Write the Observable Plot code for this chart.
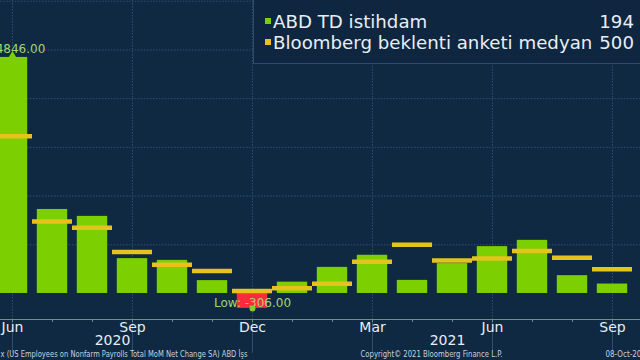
<!DOCTYPE html>
<html>
<head>
<meta charset="utf-8">
<script src="https://cdn.jsdelivr.net/npm/d3@7"></script>
<script src="https://cdn.jsdelivr.net/npm/@observablehq/plot@0.6"></script>
<style>
  html, body { margin: 0; padding: 0; background: #0f2942; overflow: hidden; }
  #wrap { position: relative; width: 640px; height: 360px; overflow: hidden; font-family: "DejaVu Sans", sans-serif; }
  #legend { position: absolute; left: 253px; top: -1px; width: 400px; height: 65px; box-sizing: border-box;
    border: 1px solid #2f4a66; background: #0e2640; color: #e8eef4; font-size: 18.2px; }
  .row { position: absolute; left: 0; height: 21px; line-height: 21px; width: 383px; white-space: nowrap; }
  .sw { position: absolute; left: 11px; top: 7px; width: 6px; height: 6px; }
  .lab { position: absolute; left: 19px; top: 0; }
  .val { position: absolute; right: 3px; top: 0; }
</style>
</head>
<body>
<div id="wrap"></div>
<script>
const months = ["2020-06","2020-07","2020-08","2020-09","2020-10","2020-11","2020-12",
                "2021-01","2021-02","2021-03","2021-04","2021-05","2021-06","2021-07","2021-08","2021-09"];
const payrolls = [4846, 1725, 1583, 716, 680, 264, -306, 233, 536, 785, 269, 614, 962, 1091, 366, 194];
const medians  = [3230, 1480, 1350, 850, 590, 460, 50, 105, 200, 650, 1000, 675, 720, 870, 733, 500];
const quarterTicks = ["2020-06","2020-09","2020-12","2021-03","2021-06","2021-09"];
const tickLabels = {"2020-06":"Jun","2020-09":"Sep","2020-12":"Dec","2021-03":"Mar","2021-06":"Jun","2021-09":"Sep"};
const yGrid = [1000, 2000, 3000, 4000, 5000, 6000];
const seriesNames = ["ABD TD istihdam", "Bloomberg beklenti anketi medyan"];
const lastValues = ["194", "500"];
const footerLeft = "x (US Employees on Nonfarm Payrolls Total MoM Net Change SA) ABD İşs";
const footerMid = "Copyright© 2021 Bloomberg Finance L.P.";
const footerRight = "08-Oct-2021";

const GREEN = "#7ccf00", YELLOW = "#e6c21c", RED = "#ff2b3c", LABEL = "#a6d46c",
      GRID = "#2f4e6e", AXIS = "#6f8f86", TEXT = "#e8eef4", FOOT = "#c8d2dc";

const data = months.map((m, i) => ({month: m, v: payrolls[i], med: medians[i]}));
const maxD = data.reduce((a, b) => b.v > a.v ? b : a);
const minD = data.reduce((a, b) => b.v < a.v ? b : a);

const chart = Plot.plot({
  width: 640, height: 360,
  marginLeft: 0, marginRight: 0, marginTop: 0, marginBottom: 41,
  style: {background: "#0f2942", fontFamily: "DejaVu Sans, sans-serif", overflow: "hidden"},
  x: {type: "band", domain: months, range: [-12.8, 637.6], padding: 0, axis: null},
  y: {domain: [-534, 6015], axis: null},
  marks: [
    Plot.gridY(yGrid, {stroke: GRID, strokeOpacity: 1, strokeDasharray: "1.5,1.5"}),
    Plot.gridX(quarterTicks, {stroke: GRID, strokeOpacity: 1, strokeDasharray: "1.5,1.5"}),
    Plot.axisX(quarterTicks, {tickSize: 34, tickFormat: () => "", stroke: GRID, strokeOpacity: 1, label: null}),
    Plot.barY(data, {x: "month", y: "v", fill: d => d.v < 0 ? RED : GREEN, insetLeft: 4.8, insetRight: 4.8}),
    Plot.tickY(data, {x: "month", y: "med", stroke: YELLOW, strokeWidth: 4.5}),
    Plot.text([maxD], {x: "month", y: "v", text: d => d.v.toFixed(2), fill: LABEL, fontSize: 12, dy: -8, dx: 8}),
    Plot.dot([maxD], {x: "month", y: "v", symbol: "triangle", r: 3, fill: GREEN, dy: -2}),
    Plot.text([minD], {x: "month", y: "v", text: d => "Low: " + d.v.toFixed(2), fill: LABEL, fontSize: 12, dy: -5}),
    Plot.dot([minD], {x: "month", y: "v", r: 3, fill: "#8acb2a"}),
    Plot.ruleY([-534], {stroke: AXIS, strokeWidth: 1.2}),
    Plot.axisX(months, {tickSize: 3, tickFormat: () => "", stroke: AXIS, label: null}),
    Plot.axisX(quarterTicks, {tickSize: 0, tickPadding: 3, tickFormat: d => tickLabels[d], fill: TEXT, fontSize: 14, label: null}),
    Plot.text(["2020"], {x: () => "2020-08", frameAnchor: "bottom", lineAnchor: "top", dy: 16, dx: 20, fill: TEXT, fontSize: 14}),
    Plot.text(["2021"], {x: () => "2021-05", frameAnchor: "bottom", lineAnchor: "top", dy: 16, dx: -5, fill: TEXT, fontSize: 14}),
    Plot.text([footerLeft], {frameAnchor: "bottom-left", textAnchor: "start", lineAnchor: "top", dy: 31, dx: 0, fill: FOOT, fontSize: 9}),
    Plot.text([footerMid], {x: () => "2021-03", frameAnchor: "bottom", textAnchor: "start", lineAnchor: "top", dy: 31, dx: -12, fill: FOOT, fontSize: 9}),
    Plot.text([footerRight], {x: () => "2021-09", frameAnchor: "bottom", textAnchor: "start", lineAnchor: "top", dy: 31, dx: -7, fill: FOOT, fontSize: 9})
  ]
});

// condense footer texts to the reference widths
const footWidths = new Map([[footerLeft, 247], [footerMid, 142], [footerRight, 45]]);
d3.select(chart).selectAll("text").each(function() {
  const w = footWidths.get(this.textContent);
  if (w) { this.setAttribute("textLength", w); this.setAttribute("lengthAdjust", "spacingAndGlyphs"); }
});

const wrap = document.getElementById("wrap");
wrap.appendChild(chart);

const legend = document.createElement("div");
legend.id = "legend";
const colors = [GREEN, YELLOW];
seriesNames.forEach((name, i) => {
  const row = document.createElement("div");
  row.className = "row";
  row.style.top = (11 + i * 21) + "px";
  row.innerHTML = `<span class="sw" style="background:${colors[i]}"></span><span class="lab">${name}</span><span class="val">${lastValues[i]}</span>`;
  legend.appendChild(row);
});
wrap.appendChild(legend);
</script>
</body>
</html>
